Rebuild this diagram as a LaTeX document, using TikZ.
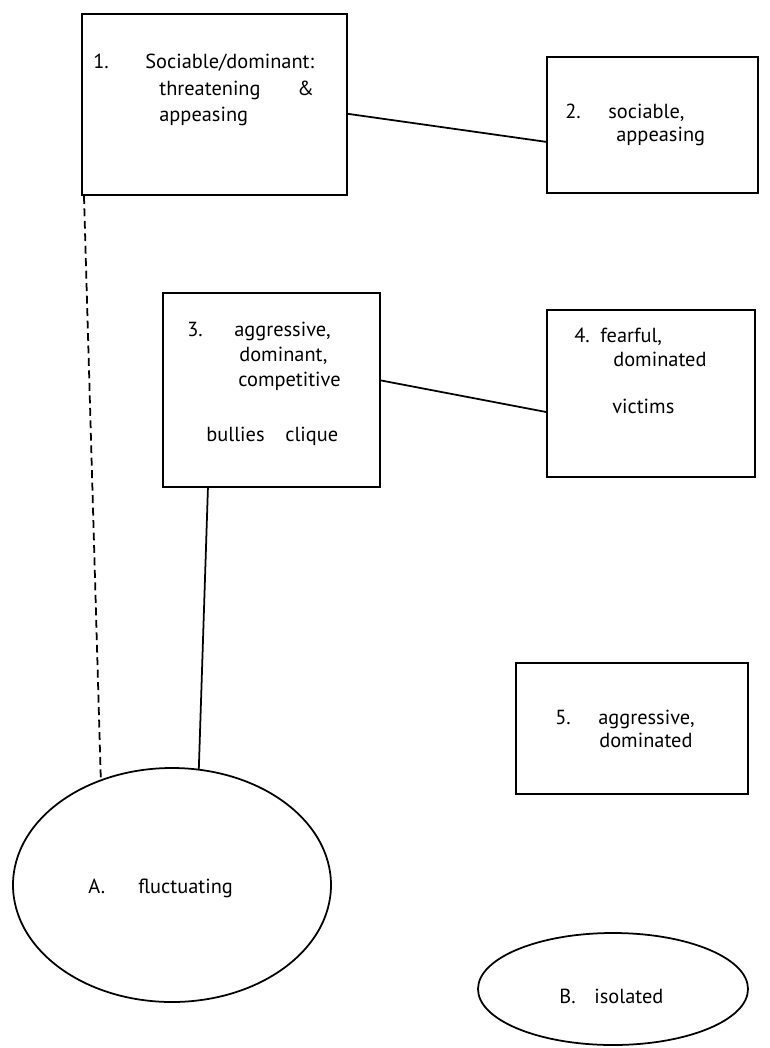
\documentclass[tikz,border=0pt]{standalone}
\usepackage{fontspec}
\setmainfont{PT Sans}
\usepackage{tikz}
\usetikzlibrary{arrows,shapes}
\def\u{0.02cm}
\tikzstyle{group}=[draw,rectangle,line width=1pt,inner sep=0pt]
\tikzstyle{kind}=[draw,ellipse,line width=1pt,inner sep=0pt]
\tikzstyle{lbl}=[anchor=base west,inner sep=0pt,font=\fontsize{11.6}{14}\selectfont]
\tikzstyle{edge}=[draw,line width=1pt,-]
\tikzstyle{loose edge}=[edge,dash pattern=on 4.5pt off 2.6pt]

\begin{document}
\begin{tikzpicture}[x=\u,y=-\u]
    \useasboundingbox (0,0) rectangle (769,1048);
    % First we draw the groups and the kinds
    \foreach \pos/\w/\h/\name in {{(214.5,104.5)/265/181/g1}, {(652.5,125)/211/136/g2}, {(271.5,390)/217/194/g3}, {(651,393.5)/208/167/g4}, {(632,728.5)/232/131/g5}}
        \node[group,minimum width=\w*\u,minimum height=\h*\u] (\name) at \pos {};

    \foreach \pos/\w/\h/\name in {{(172,885)/318/234/kA}, {(613,989)/270/112/kB}}
        \node[kind,minimum width=\w*\u,minimum height=\h*\u] (\name) at \pos {};

    % Then the words in them
    \foreach \pos/\txt [count=\i] in {{(93,68)/1.}, {(145,68)/{Sociable/dominant:}}, {(159,95)/threatening}, {(297,95)/\&}, {(159,121)/appeasing},
        {(565,118)/2.}, {(608,118)/{sociable,}}, {(616,141)/appeasing},
        {(187,336)/3.}, {(234,336)/{aggressive,}}, {(239,361)/{dominant,}}, {(238,386)/competitive}, {(206,441)/bullies}, {(285,441)/clique},
        {(574,342)/4.}, {(600,342)/{fearful,}}, {(613,366)/dominated}, {(612,413)/victims},
        {(555,724)/5.}, {(598,724)/{aggressive,}}, {(599,747)/dominated},
        {(88,893)/A.}, {(138,893)/fluctuating},
        {(559,1003)/B.}, {(594,1003)/isolated}}
        \node[lbl] (t\i) at \pos {\txt};

    % Connect them
    \foreach \source/\dest in {g1.-4.5/g2.189.7, g3.5.8/g4.190.1, g3.237.2/kA.77.3}
        \path[edge] (\source) -- (\dest);
    \path[loose edge] (g1.215.4) -- (kA.124.7);
\end{tikzpicture}
\end{document}
